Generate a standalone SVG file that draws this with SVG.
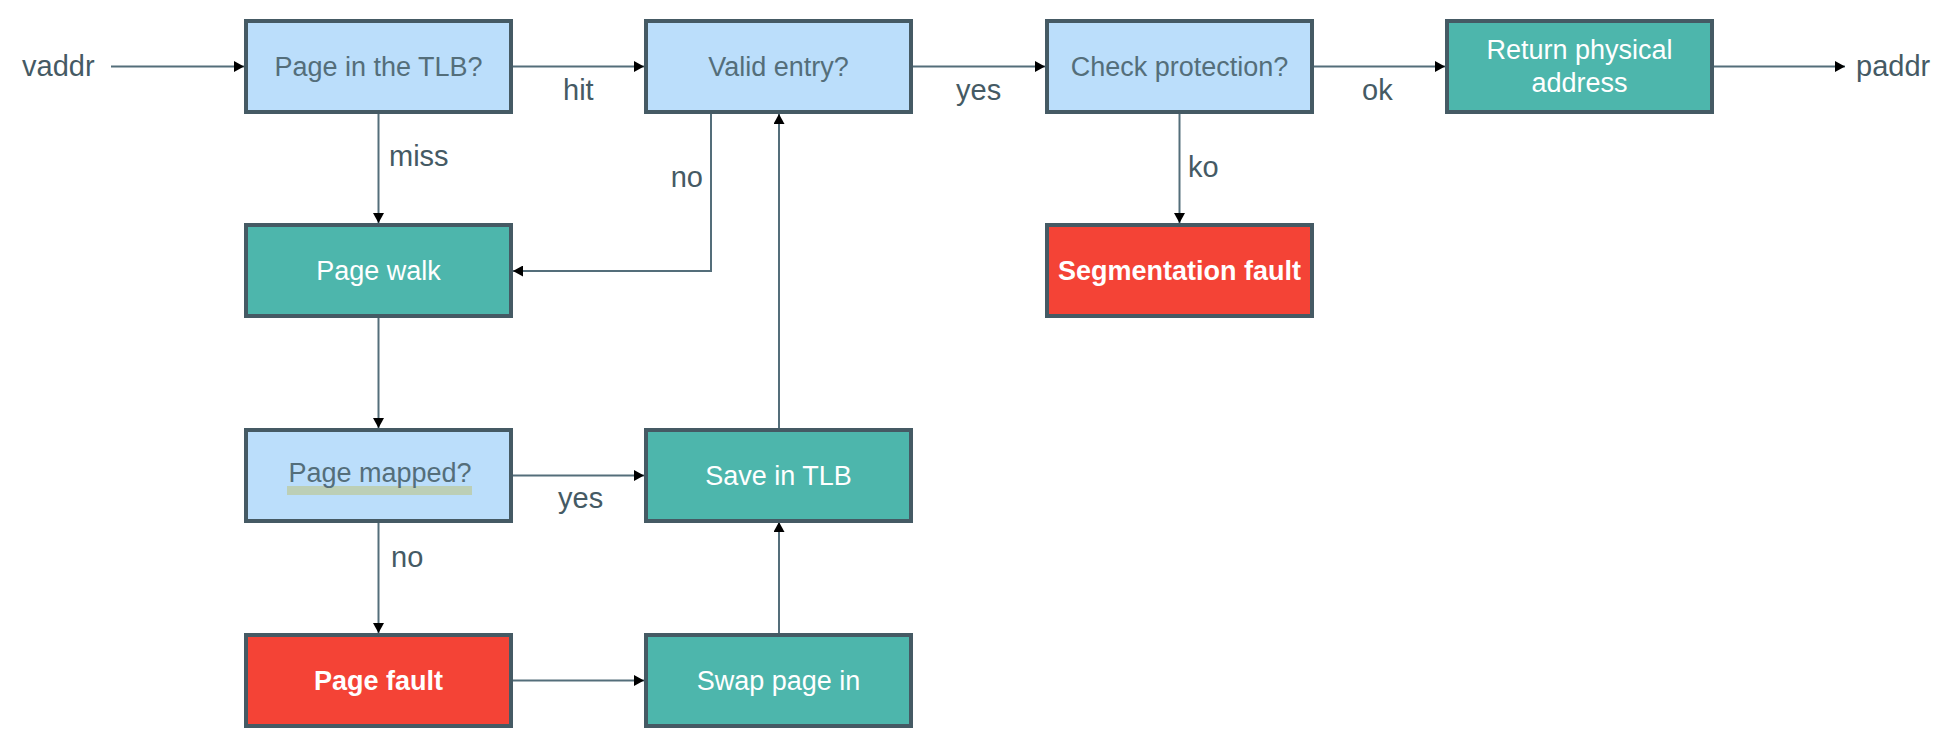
<svg xmlns="http://www.w3.org/2000/svg" width="1946" height="744" viewBox="0 0 1946 744">
<style>
  .box { stroke: #455a64; stroke-width: 4; }
  .q { fill: #bbdefb; }
  .t { fill: #4db6ac; }
  .r { fill: #f44336; }
  .bt { font-family: "Liberation Sans", Arial, sans-serif; font-size: 27px; text-anchor: middle; }
  .qt { fill: #546e7a; }
  .wt { fill: #ffffff; }
  .bold { font-weight: bold; }
  .lbl { font-family: "Liberation Sans", Arial, sans-serif; font-size: 29px; fill: #455a64; }
  .edge { fill: none; stroke: #546e7a; stroke-width: 2; marker-end: url(#arrow); }
</style>
<defs>
  <marker id="arrow" markerUnits="userSpaceOnUse" markerWidth="10" markerHeight="11" refX="10" refY="5.5" orient="auto">
    <path d="M0,0 L10,5.5 L0,11 z" fill="#000000"/>
  </marker>
</defs>
<rect width="1946" height="744" fill="#ffffff"/>

<g id="connectors">
  <path class="edge" d="M111,66.5 H244"/>
  <path class="edge" d="M513,66.5 H644"/>
  <path class="edge" d="M913,66.5 H1045"/>
  <path class="edge" d="M1314,66.5 H1445"/>
  <path class="edge" d="M1714,66.5 H1845"/>
  <path class="edge" d="M378.5,114 V223"/>
  <path class="edge" d="M711,114 V271 H513"/>
  <path class="edge" d="M378.5,318 V428"/>
  <path class="edge" d="M513,475.5 H644"/>
  <path class="edge" d="M378.5,522 V633"/>
  <path class="edge" d="M513,680.5 H644"/>
  <path class="edge" d="M779,633 V522"/>
  <path class="edge" d="M779,428 V114"/>
  <path class="edge" d="M1179.5,114 V223"/>
  <text class="lbl" x="22" y="76">vaddr</text>
  <text class="lbl" x="1856" y="76">paddr</text>
  <text class="lbl" x="563" y="100">hit</text>
  <text class="lbl" x="956" y="100">yes</text>
  <text class="lbl" x="1362" y="100">ok</text>
  <text class="lbl" x="389" y="166">miss</text>
  <text class="lbl" x="703" y="187" text-anchor="end">no</text>
  <text class="lbl" x="1188" y="177">ko</text>
  <text class="lbl" x="558" y="508">yes</text>
  <text class="lbl" x="391" y="567">no</text>
</g>

<g id="tlb">
  <rect class="box q" x="246" y="21" width="265" height="91"/>
  <text class="bt qt" x="378.5" y="75.5">Page in the TLB?</text>
</g>
<g id="valid">
  <rect class="box q" x="646" y="21" width="265" height="91"/>
  <text class="bt qt" x="778.5" y="75.5">Valid entry?</text>
</g>
<g id="protection">
  <rect class="box q" x="1047" y="21" width="265" height="91"/>
  <text class="bt qt" x="1179.5" y="75.5">Check protection?</text>
</g>
<g id="return">
  <rect class="box t" x="1447" y="21" width="265" height="91"/>
  <text class="bt wt" x="1579.5" y="59">Return physical</text>
  <text class="bt wt" x="1579.5" y="92">address</text>
</g>
<g id="pagewalk">
  <rect class="box t" x="246" y="225" width="265" height="91"/>
  <text class="bt wt" x="378.5" y="279.5">Page walk</text>
</g>
<g id="segfault">
  <rect class="box r" x="1047" y="225" width="265" height="91"/>
  <text class="bt wt bold" x="1179.5" y="279.5">Segmentation fault</text>
</g>
<g id="mapped">
  <rect class="box q" x="246" y="430" width="265" height="91"/>
  <rect x="287" y="486" width="185" height="9" fill="#bccfb6"/>
  <text class="bt qt" x="380" y="482">Page mapped?</text>
</g>
<g id="savetlb">
  <rect class="box t" x="646" y="430" width="265" height="91"/>
  <text class="bt wt" x="778.5" y="484.5">Save in TLB</text>
</g>
<g id="pagefault">
  <rect class="box r" x="246" y="635" width="265" height="91"/>
  <text class="bt wt bold" x="378.5" y="689.5">Page fault</text>
</g>
<g id="swap">
  <rect class="box t" x="646" y="635" width="265" height="91"/>
  <text class="bt wt" x="778.5" y="689.5">Swap page in</text>
</g>
</svg>
